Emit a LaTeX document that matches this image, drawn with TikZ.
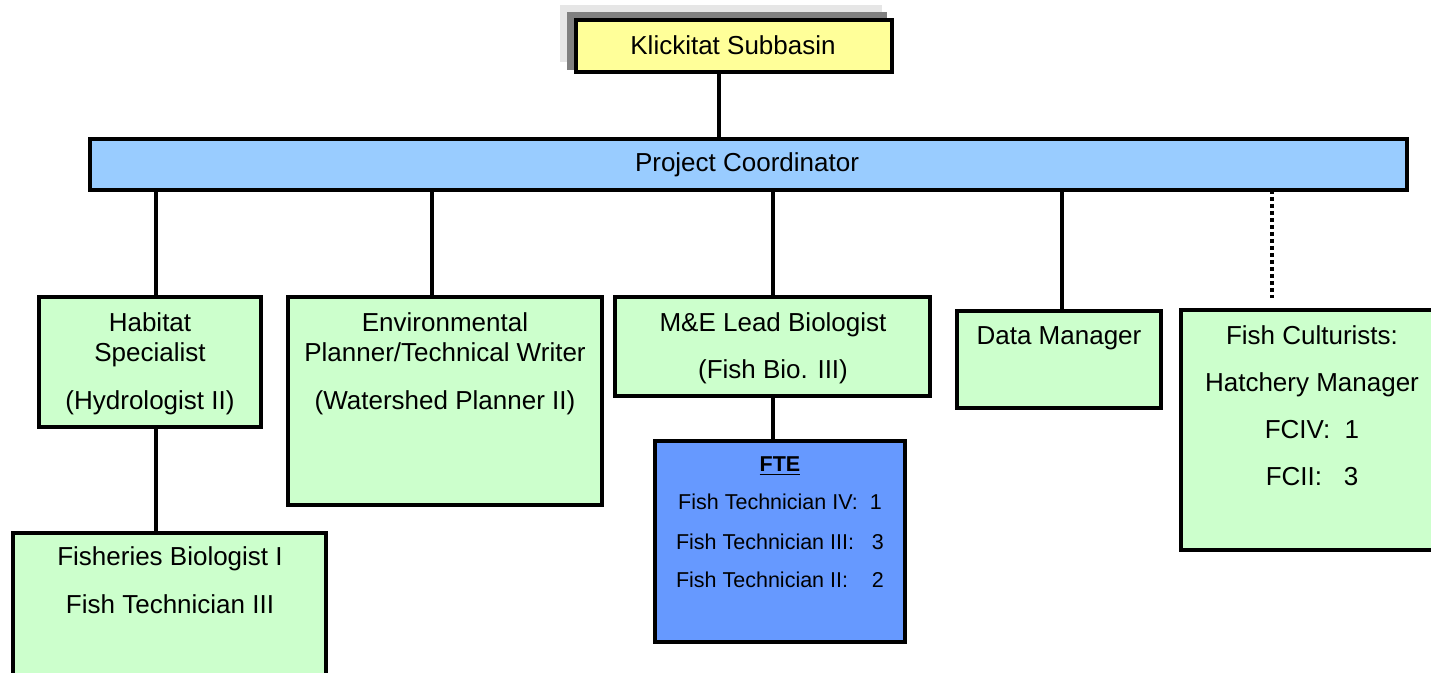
\documentclass[tikz,border=0pt]{standalone}
\usepackage{fontspec}
\setmainfont{Liberation Sans}
\definecolor{kyellow}{HTML}{FFFF99}
\definecolor{kblue}{HTML}{99CCFF}
\definecolor{kgreen}{HTML}{CCFFCC}
\definecolor{kfte}{HTML}{6699FF}
\definecolor{klgrey}{HTML}{E6E6E6}
\definecolor{kdgrey}{HTML}{808080}
\newcommand{\orgbox}[6]{\node[#6, minimum width={(#4-#2)*0.5pt}, minimum height={(#5-#3)*0.5pt}, anchor=north west] (#1) at (#2,#3) {};}
\tikzset{
  base box/.style={draw=black, line width=2.2pt, inner sep=0pt, outer sep=0pt, rectangle},
  ybox/.style={base box, fill=kyellow},
  bbox/.style={base box, fill=kblue},
  gbox/.style={base box, fill=kgreen},
  fbox/.style={base box, fill=kfte},
  shade box/.style={draw=none, inner sep=0pt, outer sep=0pt, rectangle},
  txt/.style={inner sep=0pt, anchor=base, font=\fontsize{13}{15}\selectfont},
  small txt/.style={inner sep=0pt, anchor=base, font=\fontsize{10.75}{13}\selectfont},
  link/.style={line width=2.2pt, line cap=butt},
  dotlink/.style={line width=2.2pt, dash pattern=on 2pt off 1.5pt},
}
\begin{document}
\begin{tikzpicture}[x=0.5pt, y=-0.5pt]
\useasboundingbox (0,0) rectangle (1431,673);
\clip (0,0) rectangle (1431,673);
% top box with shadows
\orgbox{shA}{560}{5}{882}{62}{shade box, fill=klgrey}
\orgbox{shB}{567}{12}{887}{70}{shade box, fill=kdgrey}
\orgbox{kl}{576}{20}{892}{72}{ybox}
\orgbox{pc}{90}{139}{1407}{190}{bbox}
\orgbox{hab}{39}{297}{261}{427}{gbox}
\orgbox{env}{288}{297}{602}{505}{gbox}
\orgbox{me}{615}{297}{930}{396}{gbox}
\orgbox{dm}{957}{311}{1161}{408}{gbox}
\orgbox{fc}{1181}{310}{1450}{550}{gbox}
\orgbox{fb}{13}{533}{326}{700}{gbox}
\orgbox{fte}{655}{441}{905}{642}{fbox}
% connector x positions
\coordinate (xk) at (719,0);
\coordinate (xh) at (156,0);
\coordinate (xe) at (432,0);
\coordinate (xm) at (773,0);
\coordinate (xd) at (1062,0);
\coordinate (xf) at (1272,0);
\coordinate (fcend) at (1272,298);
\draw[link] (kl.south -| xk) -- (pc.north -| xk);
\draw[link] (pc.south -| xh) -- (hab.north -| xh);
\draw[link] (pc.south -| xe) -- (env.north -| xe);
\draw[link] (pc.south -| xm) -- (me.north -| xm);
\draw[link] (pc.south -| xd) -- (dm.north -| xd);
\draw[dotlink] (pc.south -| xf) -- (fcend);
\draw[link] (hab.south -| xh) -- (fb.north -| xh);
\draw[link] (me.south -| xm) -- (fte.north -| xm);
% texts
\node[txt] (klT) at (733,55) {Klickitat Subbasin};
\node[txt] (pcT) at (747,172) {Project Coordinator};
\node[txt] (habA) at (150,332) {Habitat};
\node[txt] (habB) at (150,362) {Specialist};
\node[txt] (habC) at (150,410) {(Hydrologist II)};
\node[txt] (envA) at (445,332) {Environmental};
\node[txt] (envB) at (445,362) {Planner/Technical Writer};
\node[txt] (envC) at (445,410) {(Watershed Planner II)};
\node[txt] (meA) at (773,332) {M\&E Lead Biologist};
\node[txt] (meB) at (773,379) {(Fish Bio. III)};
\node[txt] (dmA) at (1059,345) {Data Manager};
\node[txt] (fcA) at (1312,345) {Fish Culturists:};
\node[txt] (fcB) at (1312,392) {Hatchery Manager};
\node[txt] (fcC) at (1312,439) {FCIV:\ \ 1};
\node[txt] (fcD) at (1312,486) {FCII:\ \ \ 3};
\node[txt] (fbA) at (170,566) {Fisheries Biologist I};
\node[txt] (fbB) at (170,614) {Fish Technician III};
\node[small txt, font=\fontsize{10.75}{13}\selectfont\bfseries] (fteA) at (780,472) {\underline{FTE}};
\node[small txt] (fteB) at (780,510) {Fish Technician IV:\ \ 1};
\node[small txt] (fteC) at (780,550) {Fish Technician III:\ \ \ 3};
\node[small txt] (fteD) at (780,588) {Fish Technician II:\ \ \ \ 2};
\end{tikzpicture}
\end{document}
